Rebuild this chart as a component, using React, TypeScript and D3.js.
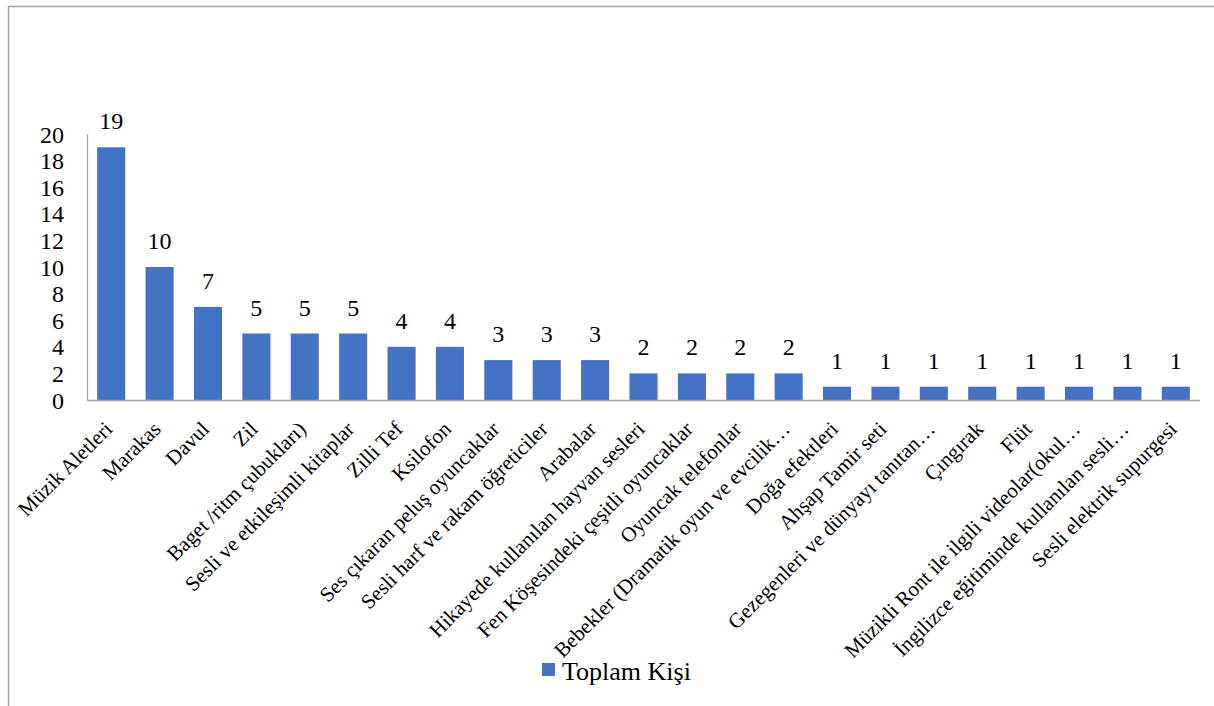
import React from "react";
import * as d3 from "d3";

const categories: string[] = [
  "Müzik Aletleri",
  "Marakas",
  "Davul",
  "Zil",
  "Baget /ritm çubukları)",
  "Sesli ve etkileşimli kitaplar",
  "Zilli Tef",
  "Ksilofon",
  "Ses çıkaran peluş oyuncaklar",
  "Sesli harf ve rakam öğreticiler",
  "Arabalar",
  "Hikayede kullanılan hayvan sesleri",
  "Fen Köşesindeki çeşitli oyuncaklar",
  "Oyuncak telefonlar",
  "Bebekler (Dramatik oyun ve evcilik…",
  "Doğa efektleri",
  "Ahşap Tamir seti",
  "Gezegenleri ve dünyayı tanıtan…",
  "Çıngırak",
  "Flüt",
  "Müzikli Ront ile ilgili videolar(okul…",
  "İngilizce eğitiminde kullanılan sesli…",
  "Sesli elektrik supurgesi",
];
const values: number[] = [19, 10, 7, 5, 5, 5, 4, 4, 3, 3, 3, 2, 2, 2, 2, 1, 1, 1, 1, 1, 1, 1, 1];
const yTicks: number[] = [0, 2, 4, 6, 8, 10, 12, 14, 16, 18, 20];
const seriesName = "Toplam Kişi";

const W = 1214;
const H = 706;
const left = 87;
const right = 1200;
const top = 134;
const bottom = 400;
const FONT = "'Liberation Serif', 'Times New Roman', Times, serif";
const BAR = "#4472C4";

export default function App() {
  const x = d3.scaleBand<string>().domain(categories).range([left, right]).paddingInner(0.42).paddingOuter(0.21);
  const y = d3.scaleLinear().domain([0, 20]).range([bottom, top]);
  return (
    <svg
      width={W}
      height={H}
      style={{ position: "absolute", left: 0, top: 0, background: "#fff", fontFamily: FONT }}
    >
      <rect x={8.5} y={6.5} width={1220} height={720} fill="#fff" stroke="#a6a6a6" strokeWidth={1.5} />
      {categories.map((c, i) => (
        <rect key={c} x={x(c)} y={y(values[i])} width={x.bandwidth()} height={y(0) - y(values[i])} fill={BAR} />
      ))}
      <line x1={left + 0.5} x2={left + 0.5} y1={top} y2={bottom} stroke="#a6a6a6" strokeWidth={1.3} />
      <line x1={left} x2={right} y1={bottom + 0.5} y2={bottom + 0.5} stroke="#a6a6a6" strokeWidth={1.5} />
      {yTicks.map((t) => (
        <text key={t} x={64} y={y(t)} dy="0.36em" textAnchor="end" fontSize={24} style={{ fontFamily: FONT }} fill="#000">
          {t}
        </text>
      ))}
      {categories.map((c, i) => (
        <text
          key={c + "v"}
          x={(x(c) as number) + x.bandwidth() / 2}
          y={y(values[i]) - 18}
          textAnchor="middle"
          fontSize={24}
          style={{ fontFamily: FONT }}
          fill="#000"
        >
          {values[i]}
        </text>
      ))}
      {categories.map((c) => {
        const cx = (x(c) as number) + x.bandwidth() / 2;
        return (
          <text
            key={c + "l"}
            transform={`translate(${cx - 8},${bottom + 20}) rotate(-45)`}
            textAnchor="end"
            dy="0.7em"
            fontSize={21}
            style={{ fontFamily: FONT }}
            fill="#000"
          >
            {c}
          </text>
        );
      })}
      <rect x={542} y={663} width={13} height={13} fill={BAR} />
      <text x={562} y={680} fontSize={26} style={{ fontFamily: FONT }} fill="#000">
        {seriesName}
      </text>
    </svg>
  );
}
